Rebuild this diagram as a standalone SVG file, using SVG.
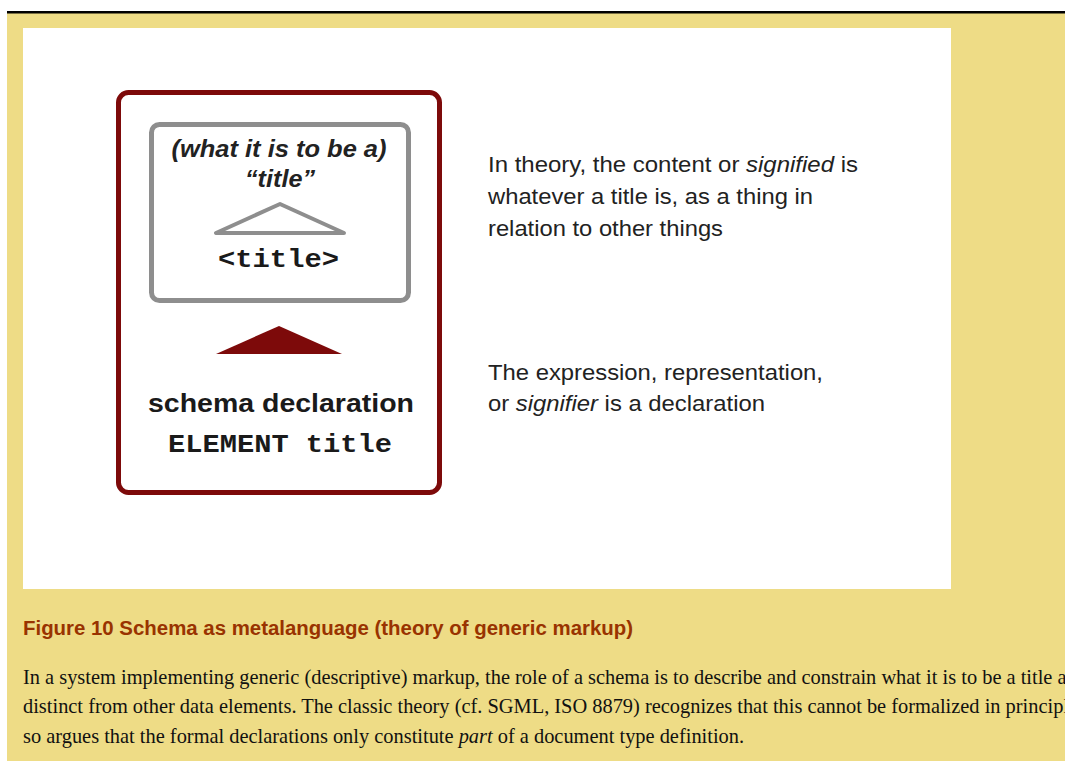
<svg xmlns="http://www.w3.org/2000/svg" width="1065" height="761" viewBox="0 0 1065 761">
<style>
.sans{font-family:"Liberation Sans",Arial,sans-serif;}
.mono{font-family:"Liberation Mono","Courier New",monospace;font-weight:bold;fill:#1a1a1a;}
.fig{fill:#222;font-size:22px;}
.body{font-family:"Liberation Serif","Times New Roman",serif;font-size:20.4px;fill:#111;}
</style>
<rect x="0" y="0" width="1065" height="761" fill="#ffffff"/>
<rect x="7" y="13" width="1058" height="748" fill="#eedc86"/>
<rect x="7" y="11" width="1058" height="2.5" fill="#000"/>
<rect x="23" y="28" width="928" height="561" fill="#ffffff"/>

<g id="schema-box">
<rect x="118.5" y="92.5" width="321" height="400" rx="10" fill="#fff" stroke="#7d0a0a" stroke-width="5"/>
</g>
<g id="concept-box">
<rect x="151.5" y="124.5" width="257" height="176" rx="8" fill="#fff" stroke="#8e8e8e" stroke-width="5"/>
<text class="sans" x="279" y="157" text-anchor="middle" font-size="23" font-weight="bold" font-style="italic" fill="#222" textLength="215" lengthAdjust="spacingAndGlyphs">(what it is to be a)</text>
<text class="sans" x="280" y="187" text-anchor="middle" font-size="24" font-weight="bold" font-style="italic" fill="#222" textLength="70" lengthAdjust="spacingAndGlyphs">“title”</text>
<polygon points="280,204 216,233 344,233" fill="none" stroke="#8e8e8e" stroke-width="4" stroke-linejoin="round"/>
<text class="mono" x="278.5" y="267" text-anchor="middle" font-size="26" textLength="121" lengthAdjust="spacingAndGlyphs">&lt;title&gt;</text>
</g>
<g id="connectors">
<polygon points="279,326 216,354 342,354" fill="#7d0a0a"/>
</g>
<g id="declaration">
<text class="sans" x="281" y="412" text-anchor="middle" font-size="26" font-weight="bold" fill="#1a1a1a" textLength="266" lengthAdjust="spacingAndGlyphs">schema declaration</text>
<text class="mono" x="280" y="452" text-anchor="middle" font-size="26" textLength="224" lengthAdjust="spacingAndGlyphs">ELEMENT title</text>
</g>
<g id="signified-note" class="sans fig">
<text x="488" y="172" textLength="370" lengthAdjust="spacingAndGlyphs">In theory, the content or <tspan font-style="italic">signified</tspan> is</text>
<text x="488" y="204" textLength="325" lengthAdjust="spacingAndGlyphs">whatever a title is, as a thing in</text>
<text x="488" y="236" textLength="235" lengthAdjust="spacingAndGlyphs">relation to other things</text>
</g>
<g id="signifier-note" class="sans fig">
<text x="488" y="380" textLength="335" lengthAdjust="spacingAndGlyphs">The expression, representation,</text>
<text x="488" y="411" textLength="277" lengthAdjust="spacingAndGlyphs">or <tspan font-style="italic">signifier</tspan> is a declaration</text>
</g>
<g id="caption">
<text class="sans" x="23" y="635" font-size="20" font-weight="bold" fill="#993300" textLength="610" lengthAdjust="spacingAndGlyphs">Figure 10 Schema as metalanguage (theory of generic markup)</text>
<text class="body" x="23" y="684">In a system implementing generic (descriptive) markup, the role of a schema is to describe and constrain what it is to be a title a</text>
<text class="body" x="23" y="713">distinct from other data elements. The classic theory (cf. SGML, ISO 8879) recognizes that this cannot be formalized in principl</text>
<text class="body" x="23" y="743">so argues that the formal declarations only constitute <tspan font-style="italic">part</tspan> of a document type definition.</text>
</g>
</svg>
